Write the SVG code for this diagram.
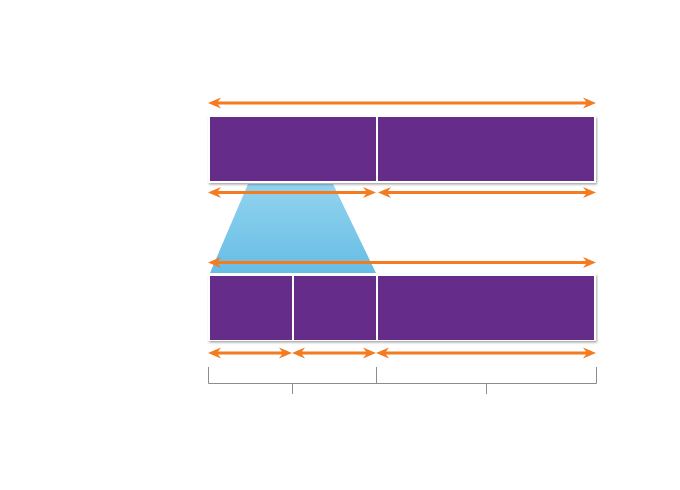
<svg xmlns="http://www.w3.org/2000/svg" width="680" height="490" viewBox="0 0 680 490">
<style>
.frame{fill:#ffffff;filter:url(#sh)}
.blk{fill:#652d89}
.arr{stroke:#f47b20;stroke-width:3;fill:none;marker-start:url(#ah);marker-end:url(#ah)}
.br{stroke:#8c8c8c;stroke-width:1;fill:none}
</style>
<defs>
<filter id="sh" x="-5%" y="-20%" width="110%" height="140%">
<feDropShadow dx="1" dy="1.5" stdDeviation="1.2" flood-color="#000" flood-opacity="0.35"/>
</filter>
<linearGradient id="g" x1="0" y1="0" x2="0" y2="1">
<stop offset="0" stop-color="#92d3ef"/>
<stop offset="1" stop-color="#66bde4"/>
</linearGradient>
<marker id="ah" markerUnits="userSpaceOnUse" viewBox="0 -6 14 12" markerWidth="14" markerHeight="12" refX="4" refY="0" orient="auto-start-reverse">
<path d="M0,-5.5 L13,0 L0,5.5 L4,0 Z" fill="#f47b20"/>
</marker>
</defs>
<polygon id="zoom" points="248,184 333,184 376,273 210,273" fill="url(#g)"/>
<g id="top-row">
<rect class="frame" x="208" y="116" width="388" height="67"/>
<rect id="top-a" class="blk" x="210" y="117" width="166" height="64"/>
<rect id="top-b" class="blk" x="378" y="117" width="216" height="64"/>
</g>
<g id="bottom-row">
<rect class="frame" x="208" y="274" width="388" height="67"/>
<rect id="bot-a" class="blk" x="210" y="276" width="82" height="64"/>
<rect id="bot-b" class="blk" x="294" y="276" width="82" height="64"/>
<rect id="bot-c" class="blk" x="378" y="276" width="216" height="64"/>
</g>
<g id="connectors">
<line class="arr" x1="217" y1="103" x2="587" y2="103"/>
<line class="arr" x1="217" y1="192.5" x2="367" y2="192.5"/>
<line class="arr" x1="387" y1="192.5" x2="587" y2="192.5"/>
<line class="arr" x1="217" y1="262.5" x2="587" y2="262.5"/>
<line class="arr" x1="217" y1="353" x2="283" y2="353"/>
<line class="arr" x1="301" y1="353" x2="367" y2="353"/>
<line class="arr" x1="385" y1="353" x2="587" y2="353"/>
<path class="br" d="M208.5,367 V383.5 H596.5 V367 M376.5,367 V383.5 M292.5,383.5 V394 M486.5,383.5 V394"/>
</g>
</svg>
